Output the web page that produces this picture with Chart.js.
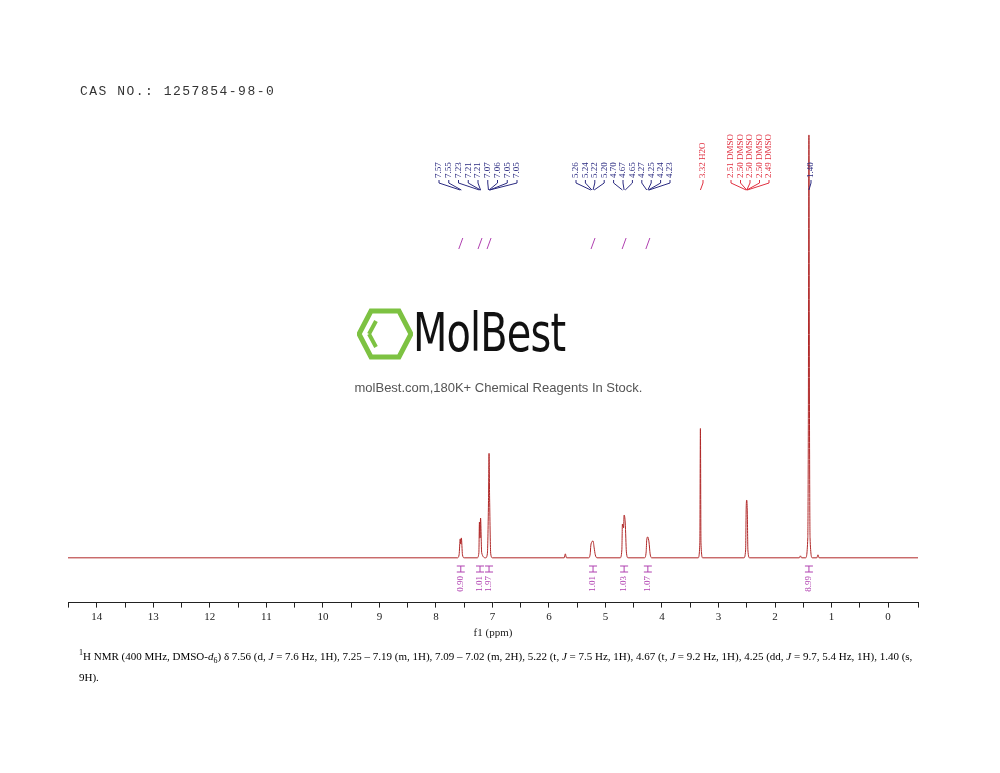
<!DOCTYPE html>
<html><head><meta charset="utf-8">
<script src="https://cdn.jsdelivr.net/npm/chart.js@4/dist/chart.umd.min.js"></script>
<style>
html,body{margin:0;padding:0;background:#fff;width:1000px;height:773px;overflow:hidden;position:relative}
#c{position:absolute;left:0;top:0}
.cas{position:absolute;left:80px;top:84px;font-family:"Liberation Mono","DejaVu Sans Mono",monospace;font-size:13px;color:#333;letter-spacing:1.5px}
.logo{position:absolute;left:357px;top:307px;width:220px;height:60px}
.logo span{position:absolute;left:56px;top:-6px;font-family:"Liberation Sans Narrow","DejaVu Sans Condensed",sans-serif;font-size:54px;color:#111;letter-spacing:-1px;transform:scaleX(0.82);transform-origin:left top;font-weight:300}
.sub{position:absolute;left:300px;width:397px;top:380px;text-align:center;font-family:"Liberation Sans",Arial,sans-serif;font-size:13px;color:#555}
.foot{position:absolute;left:79px;top:645px;width:850px;font-family:"Liberation Serif","Times New Roman",serif;font-size:11px;line-height:16px;color:#000}
</style></head><body>
<canvas id="c" width="1000" height="773"></canvas>
<div class="cas">CAS NO.: 1257854-98-0</div>
<div class="logo"><svg width="56" height="56" viewBox="0 0 56 56" style="position:absolute;left:0;top:0">
<polygon points="14,4 42,4 54,27 42,50 14,50 2,27" fill="none" stroke="#7dc242" stroke-width="5"/>
<path d="M12,27 L19,14 M12,27 L19,40" stroke="#7dc242" stroke-width="4" fill="none"/></svg><span>MolBest</span></div>
<div class="sub">molBest.com,180K+ Chemical Reagents In Stock.</div>
<div class="foot"><sup style="font-size:8px">1</sup>H NMR (400 MHz, DMSO-<i>d</i><sub style="font-size:8px">6</sub>) δ 7.56 (d, <i>J</i> = 7.6 Hz, 1H), 7.25 – 7.19 (m, 1H), 7.09 – 7.02 (m, 2H), 5.22 (t, <i>J</i> = 7.5 Hz, 1H), 4.67 (t, <i>J</i> = 9.2 Hz, 1H), 4.25 (dd, <i>J</i> = 9.7, 5.4 Hz, 1H), 1.40 (s, 9H).</div>
<script>
const spectrum = [[14.51,0],[7.62,0],[7.59,3],[7.57,19],[7.56,14],[7.55,20],[7.53,3],[7.50,0],
[7.27,0],[7.24,5],[7.23,36],[7.22,20],[7.21,40],[7.19,5],[7.12,0],[7.09,4],[7.07,55],[7.06,105],[7.05,60],[7.03,4],[7.0,0],
[5.73,0],[5.71,4],[5.69,0],
[5.30,0],[5.27,4],[5.26,12],[5.24,16],[5.22,17],[5.20,10],[5.18,3],[5.15,0],
[4.74,0],[4.71,8],[4.70,34],[4.68,30],[4.67,43],[4.65,35],[4.63,6],[4.60,0],
[4.31,0],[4.28,6],[4.27,18],[4.25,21],[4.24,19],[4.23,16],[4.21,4],[4.18,0],
[3.36,0],[3.33,15],[3.32,130],[3.31,15],[3.28,0],
[2.55,0],[2.52,8],[2.51,50],[2.50,58],[2.49,45],[2.48,8],[2.45,0],
[1.57,0],[1.55,2],[1.53,0],[1.46,0],[1.42,20],[1.41,140],[1.40,425],[1.39,140],[1.38,20],[1.34,0],[1.26,0],[1.24,3],[1.22,0],[-0.53,0]];
const groupBlue1 = ["7.57","7.55","7.23","7.21","7.21","7.07","7.06","7.05","7.05"];
const groupBlue2 = ["5.26","5.24","5.22","5.20","4.70","4.67","4.65","4.27","4.25","4.24","4.23"];
const groupRed1 = ["3.32 H2O"];
const groupRed2 = ["2.51 DMSO","2.50 DMSO","2.50 DMSO","2.50 DMSO","2.49 DMSO"];
const groupBlue3 = ["1.40"];
const integralPos = [7.56,7.22,7.06,5.22,4.67,4.25,1.40];
const integralVals = ["0.90","1.01","1.97","1.01","1.03","1.07","8.99"];
const integralCurvePos = [7.56,7.22,7.06,5.22,4.67,4.25];

const labelGroups = [
 {labels:groupBlue1, from:436, to:514, color:'#2a2a80'},
 {labels:groupBlue2, from:573, to:667, color:'#2a2a80'},
 {labels:groupRed1, from:700, to:700, color:'#e03040'},
 {labels:groupRed2, from:728, to:766, color:'#e03040'},
 {labels:groupBlue3, from:808, to:808, color:'#2a2a80'}];

const annot = {id:'annot', afterDatasetsDraw(ch){
  const c=ch.ctx, x=ch.scales.x;
  c.save();
  c.font='9px "Liberation Serif",serif';
  labelGroups.forEach(g=>{
    const n=g.labels.length;
    g.labels.forEach((t,i)=>{
      const lx = n>1? g.from+(g.to-g.from)*i/(n-1) : g.from;
      const ppm=parseFloat(t);
      const px=x.getPixelForValue(ppm);
      c.save();c.translate(lx+3,178);c.rotate(-Math.PI/2);
      c.fillStyle=g.color;c.textAlign='left';c.textBaseline='middle';
      c.fillText(t,0,0);c.restore();
      c.strokeStyle=g.color;c.lineWidth=1;
      c.beginPath();c.moveTo(lx+3,180);c.lineTo(lx+3,183);c.lineTo(px,190);c.stroke();
    });
  });
  c.strokeStyle='#b040b0';
  integralCurvePos.forEach((p,i)=>{const px=x.getPixelForValue(p);
    c.beginPath();c.moveTo(px-2,249);c.lineTo(px+2,238);c.stroke();});
  integralPos.forEach((p,i)=>{const px=x.getPixelForValue(p);
    c.beginPath();c.moveTo(px-4,566);c.lineTo(px+4,566);c.moveTo(px,566);c.lineTo(px,572);
    c.moveTo(px-4,572);c.lineTo(px+4,572);c.stroke();
    c.save();c.translate(px,576);c.rotate(-Math.PI/2);c.fillStyle='#b040b0';
    c.textAlign='right';c.textBaseline='middle';c.fillText(integralVals[i],0,0);c.restore();});
  c.restore();
}};

new Chart(document.getElementById('c'),{
 type:'line',
 data:{datasets:[{data:spectrum.map(p=>({x:p[0],y:p[1]})),borderColor:'#b02828',borderWidth:1,pointRadius:0,cubicInterpolationMode:'monotone',fill:false}]},
 options:{responsive:false,animation:false,
  layout:{padding:{left:68,right:82,top:125,bottom:133}},
  plugins:{legend:{display:false},tooltip:{enabled:false}},
  scales:{
   x:{type:'linear',reverse:true,min:-0.53,max:14.51,
      ticks:{stepSize:0.5,autoSkip:false,color:'#222',font:{family:'"Liberation Serif",serif',size:11},
        callback:v=>Number.isInteger(v)?String(v):''},
      grid:{drawOnChartArea:false,drawTicks:true,tickLength:5,color:'#222'},
      border:{color:'#222'},
      title:{display:true,text:'f1 (ppm)',color:'#222',font:{family:'"Liberation Serif",serif',size:11},padding:0}},
   y:{display:false,min:-45,max:435}}},
 plugins:[annot]});
</script></body></html>
